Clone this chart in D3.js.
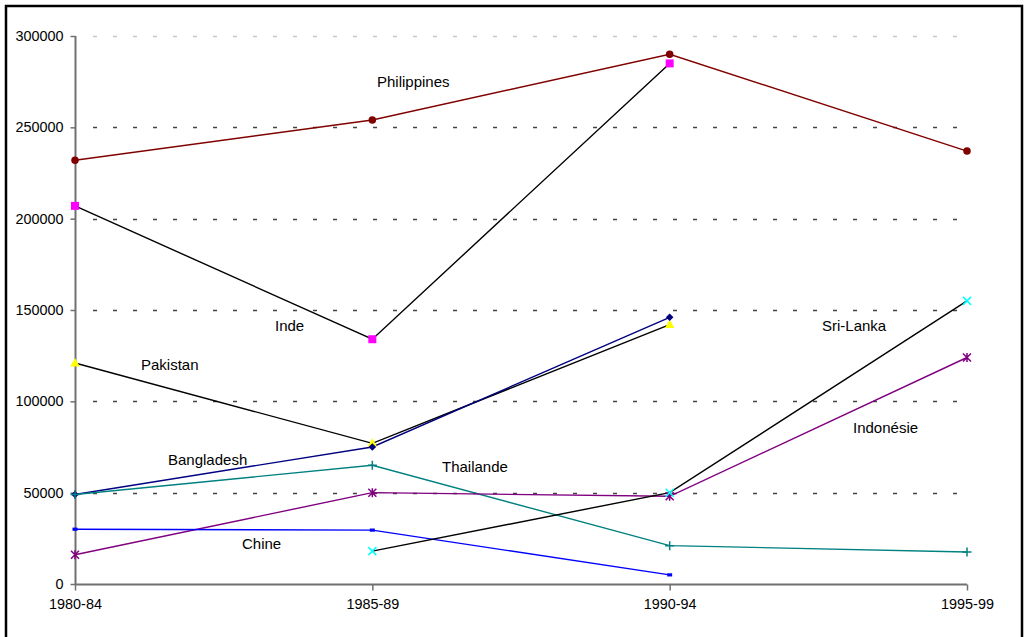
<!DOCTYPE html>
<html>
<head>
<meta charset="utf-8">
<script src="https://cdn.jsdelivr.net/npm/d3@7"></script>
<style>
  html, body { margin: 0; padding: 0; background: #fff; }
  svg { display: block; }
  text { font-family: "Liberation Sans", Arial, sans-serif; fill: #000; }
</style>
</head>
<body>
<svg id="chart" width="1025" height="637"></svg>
<script>
// Periods on the horizontal axis
const periods = ["1980-84", "1985-89", "1990-94", "1995-99"];
// Vertical axis ticks
const yTicks = [0, 50000, 100000, 150000, 200000, 250000, 300000];

// One array per country (null = no value for that period)
const philippines = [232000, 254000, 290000, 237000];
const inde        = [207000, 134000, 285000, null];
const pakistan    = [121000, 77000, 142000, null];
const bangladesh  = [49000, 75000, 146000, null];
const thailande   = [49000, 65000, 21000, 17500];
const indonesie   = [16000, 50000, 48000, 124000];
const chine       = [30000, 29500, 5000, null];
const sriLanka    = [null, 18000, 50000, 155000];

const seriesNames = ["Philippines", "Inde", "Pakistan", "Bangladesh", "Thailande", "Indonésie", "Chine", "Sri-Lanka"];
const seriesValues = [philippines, inde, pakistan, bangladesh, thailande, indonesie, chine, sriLanka];
const lineColors   = ["#800000", "#000000", "#000000", "#000080", "#008080", "#800080", "#0000ff", "#000000"];
const markerColors = ["#800000", "#ff00ff", "#ffff00", "#000080", "#008080", "#800080", "#0000ff", "#00ffff"];
const markerKinds  = ["circle", "square", "triangle", "diamond", "plus", "asterisk", "dash", "cross"];

// Series name labels placed inside the plot (left x, baseline value)
const labelAnchors = [
  { name: "Philippines", dx: 377, value: 272000 },
  { name: "Inde",        dx: 275, value: 138500 },
  { name: "Pakistan",    dx: 141, value: 117000 },
  { name: "Bangladesh",  dx: 168, value: 65000 },
  { name: "Thailande",   dx: 442, value: 61500 },
  { name: "Chine",       dx: 242, value: 19200 },
  { name: "Sri-Lanka",   dx: 822, value: 138500 },
  { name: "Indonésie",   dx: 853, value: 82500 }
];

const svg = d3.select("#chart");
const plot = { left: 75, right: 967, top: 36, bottom: 584 };

const x = d3.scalePoint().domain(periods).range([plot.left, plot.right]);
const y = d3.scaleLinear().domain([0, 300000]).range([plot.bottom, plot.top]);

// Outer frame
svg.append("rect")
  .attr("x", 6).attr("y", 6)
  .attr("width", 1016).attr("height", 640)
  .attr("fill", "none").attr("stroke", "#000").attr("stroke-width", 2.5);

// Dashed horizontal gridlines
svg.append("g")
  .selectAll("line")
  .data(yTicks.filter(d => d > 0))
  .join("line")
  .attr("x1", plot.left + 18).attr("x2", plot.right)
  .attr("y1", d => Math.round(y(d)) + 0.5).attr("y2", d => Math.round(y(d)) + 0.5)
  .attr("stroke", d => d === 300000 ? "#c8c8c8" : "#444")
  .attr("stroke-width", 1.4)
  .attr("stroke-dasharray", "4,16");

// Y axis
const yAxis = svg.append("g")
  .attr("transform", `translate(${plot.left + 0.5},0)`)
  .call(d3.axisLeft(y).tickValues(yTicks).tickSize(5).tickPadding(7).tickFormat(d3.format("d")));
yAxis.select(".domain").attr("stroke", "#707070").attr("stroke-width", 2).attr("d", `M0,${plot.top}V${plot.bottom}`);
yAxis.selectAll(".tick line").attr("stroke", "#707070").attr("stroke-width", 1.5);
yAxis.selectAll(".tick text").attr("font-size", "14.4px").attr("font-family", "Liberation Sans, Arial, sans-serif").attr("fill", "#000");

// X axis
const xAxis = svg.append("g")
  .attr("transform", `translate(0,${plot.bottom + 0.5})`)
  .call(d3.axisBottom(x).tickSize(6).tickPadding(8));
xAxis.select(".domain").attr("stroke", "#707070").attr("stroke-width", 2).attr("d", `M${plot.left},0H${plot.right}`);
xAxis.selectAll(".tick line").attr("stroke", "#707070").attr("stroke-width", 1.5);
xAxis.selectAll(".tick text").attr("font-size", "14.4px").attr("font-family", "Liberation Sans, Arial, sans-serif").attr("fill", "#000");

// Marker path builders
function markerPath(kind) {
  switch (kind) {
    case "circle":   return d3.symbol(d3.symbolCircle, 44)();
    case "square":   return "M-4,-4H4V4H-4Z";
    case "triangle": return "M0,-5L4.8,3.5H-4.8Z";
    case "diamond":  return "M0,-3.8L3.8,0L0,3.8L-3.8,0Z";
    case "plus":     return "M-4.5,0H4.5M0,-4.5V4.5";
    case "cross":    return "M-4,-4L4,4M-4,4L4,-4";
    case "asterisk": return "M-4,-4L4,4M-4,4L4,-4M0,-4.5V4.5";
    case "dash":     return "M-2.5,-1.6H2.5V1.6H-2.5Z";
  }
}
const strokedKinds = new Set(["plus", "cross", "asterisk"]);

const line = d3.line()
  .defined(d => d.v !== null)
  .x(d => x(d.p))
  .y(d => y(d.v));

const seriesG = svg.append("g");
seriesValues.forEach((vals, i) => {
  const pts = vals.map((v, j) => ({ p: periods[j], v }));
  seriesG.append("path")
    .datum(pts)
    .attr("d", line)
    .attr("fill", "none")
    .attr("stroke", lineColors[i])
    .attr("stroke-width", 1.4);
});
seriesValues.forEach((vals, i) => {
  const pts = vals.map((v, j) => ({ p: periods[j], v })).filter(d => d.v !== null);
  const kind = markerKinds[i];
  seriesG.append("g")
    .selectAll("path")
    .data(pts)
    .join("path")
    .attr("transform", d => `translate(${x(d.p)},${y(d.v)})`)
    .attr("d", markerPath(kind))
    .attr("fill", strokedKinds.has(kind) ? "none" : markerColors[i])
    .attr("stroke", strokedKinds.has(kind) ? markerColors[i] : "none")
    .attr("stroke-width", 1.5);
});

// Country name labels
svg.append("g")
  .selectAll("text")
  .data(labelAnchors)
  .join("text")
  .attr("x", d => d.dx)
  .attr("y", d => y(d.value))
  .attr("font-size", "15px")
  .text(d => d.name);
</script>
</body>
</html>
